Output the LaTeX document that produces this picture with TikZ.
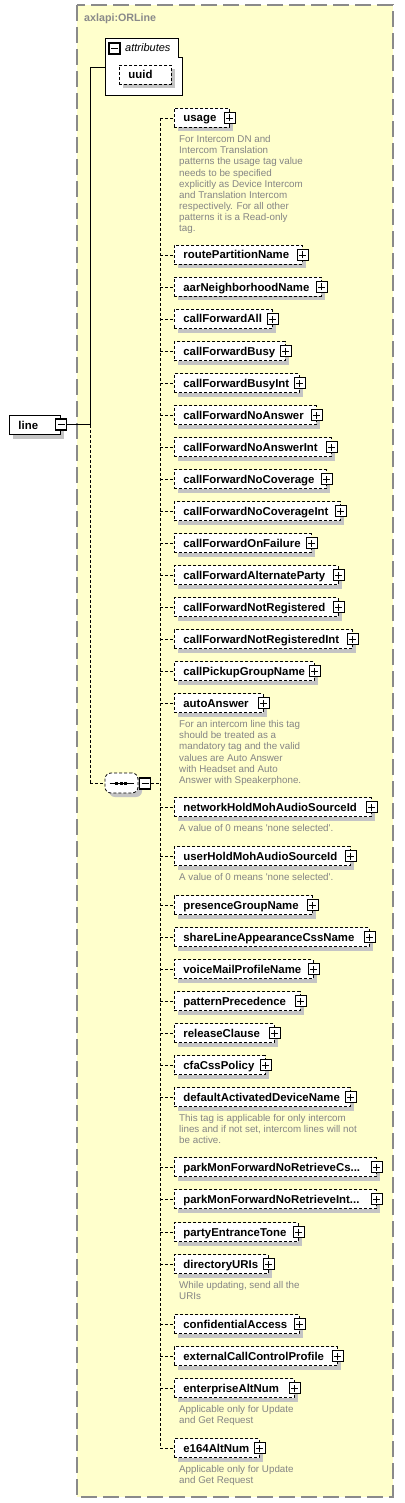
\documentclass[tikz,border=0pt]{standalone}
\usepackage{fontspec}
\setmainfont{Liberation Sans}
\newfontfamily\descfont{Liberation Sans}[Ligatures=TeXOff]
\usetikzlibrary{shadows}
\definecolor{bgyellow}{HTML}{FFFFCC}
\definecolor{framegray}{HTML}{8A8A8A}
\definecolor{shadowgray}{HTML}{C4C4C4}
\definecolor{descgray}{HTML}{858585}
\newcommand\elemfont{\fontsize{11.4}{13}\selectfont\bfseries}
\newcommand\tdots{.{}.{}.}
\begin{document}
\begin{tikzpicture}[x=1pt,y=-1pt,
  conn/.style={line width=0.8pt, dash pattern=on 3pt off 2pt},
  elem/.style={draw, line width=0.8pt, dash pattern=on 3pt off 2pt, fill=white,
    minimum height=19pt, inner sep=0pt, anchor=west, text height=9pt, text depth=1pt,
    font=\elemfont, drop shadow={shadow xshift=4pt, shadow yshift=-4pt, fill=shadowgray, opacity=1}},
  solidbox/.style={elem, solid, line width=0.9pt},
  seqbox/.style={draw, line width=0.8pt, dash pattern=on 3pt off 2pt, fill=white,
    rounded corners=6pt, minimum width=33pt, minimum height=20pt, inner sep=0pt,
    drop shadow={shadow xshift=4pt, shadow yshift=-4pt, fill=shadowgray, opacity=1}},
  pm/.style={draw, fill=white, line width=1.1pt, minimum size=11pt, inner sep=0pt},
  plusbox/.style={pm, path picture={\draw[line width=0.9pt]
      ([xshift=-3.5pt]path picture bounding box.center) -- ([xshift=3.5pt]path picture bounding box.center)
      ([yshift=-3.5pt]path picture bounding box.center) -- ([yshift=3.5pt]path picture bounding box.center);}},
  minusbox/.style={pm, path picture={\draw[line width=0.9pt]
      ([xshift=-3.5pt]path picture bounding box.center) -- ([xshift=3.5pt]path picture bounding box.center);}},
  desc/.style={anchor=north west, inner sep=0pt, align=left, text=descgray,
    font=\descfont\fontsize{9.8}{11.1}\selectfont}
]
\useasboundingbox (0,0) rectangle (404,1503);
% frame
\draw[framegray, line width=1.4pt, dash pattern=on 16pt off 6pt, fill=bgyellow] (77,5) rectangle (393,1497);
\node[anchor=west, inner sep=0pt, text=framegray, font=\fontsize{10.7}{12}\selectfont\bfseries] (title) at (84,19) {axlapi:ORLine};

% attributes box
\draw[fill=white, line width=0.9pt] (105,38) -- (178,38) -- (178,57) -- (182,57) -- (182,95) -- (105,95) -- cycle;
\node[minusbox] (am) at (114.5,48.5) {};
\node[anchor=west, inner sep=0pt, font=\fontsize{11}{13}\selectfont\itshape] (attl) at (125,48) {attributes};
\node[elem] (uuid) at (119,74.5) {\makebox[52pt][l]{\hspace{9pt}uuid}};
\coordinate (att) at (105,67);

% line node
\node[solidbox] (ln) at (9,425) {\makebox[51pt][l]{\hspace{9pt}line}};
\node[minusbox] (lm) at (61,424.5) {};
\coordinate (jt) at (90,67);
\coordinate (jl) at (90,424.5);
\coordinate (js) at (90,783);
\draw[line width=0.9pt] (lm.east) -- (jl) -- (jt) -- (att);
\draw[conn] (jl) -- (js);

% sequence node
\node[seqbox] (seq) at (121.5,783) {};
\draw[line width=0.9pt] ([xshift=5pt]seq.west) -- ([xshift=-4pt]seq.east);
\foreach \sx in {115,119.5,124} {\fill (\sx,781.5) rectangle ++(3,3);}
\node[minusbox] (sm) at (145,783.5) {};
\draw[conn] (js) -- (seq.west);
\coordinate (sj) at (160,783.5);
\draw[conn] (sm.east) -- (sj);

% children
\foreach \t/\y/\r [count=\i] in {
  usage/118/229, routePartitionName/255/302, aarNeighborhoodName/287/321,
  callForwardAll/319/272, callForwardBusy/351/285, callForwardBusyInt/383/299,
  callForwardNoAnswer/415/316, callForwardNoAnswerInt/447/331,
  callForwardNoCoverage/479/326, callForwardNoCoverageInt/511/340,
  callForwardOnFailure/543/311, callForwardAlternateParty/575/338,
  callForwardNotRegistered/607/338, callForwardNotRegisteredInt/639/352,
  callPickupGroupName/671/314, autoAnswer/703/263,
  networkHoldMohAudioSourceId/807/371, userHoldMohAudioSourceId/856/350,
  presenceGroupName/905/312, shareLineAppearanceCssName/937/369,
  voiceMailProfileName/969/313, patternPrecedence/1001/300,
  releaseClause/1033/274, cfaCssPolicy/1065/265,
  defaultActivatedDeviceName/1097/350,
  parkMonForwardNoRetrieveCs\tdots/1167/376,
  parkMonForwardNoRetrieveInt\tdots/1199/376,
  partyEntranceTone/1232/298, directoryURIs/1264/268,
  confidentialAccess/1324/299, externalCallControlProfile/1356/337,
  enterpriseAltNum/1388/294, e164AltNum/1448/259} {
  \coordinate (j\i) at (160,\y);
  \node[elem] (e\i) at (174,\y) {\makebox[\dimexpr\r pt-174pt\relax][l]{\hspace{9pt}\t}};
  \node[plusbox] (p\i) at (e\i.east) {};
  \draw[conn] (j\i) -- (e\i.west);
}
\draw[conn] (j1) -- (j33);

% descriptions
\node[desc] (d1) at (179,134.8) {\strut For Intercom DN and\\Intercom Translation\\patterns the usage tag value\\needs to be specified\\explicitly as Device Intercom\\and Translation Intercom\\respectively. For all other\\patterns it is a Read-only\\tag.};
\node[desc] (d16) at (179,719.8) {\strut For an intercom line this tag\\should be treated as a\\mandatory tag and the valid\\values are Auto Answer\\with Headset and Auto\\Answer with Speakerphone.};
\node[desc] (d17) at (179,823.8) {\strut A value of 0 means 'none selected'.};
\node[desc] (d18) at (179,872.8) {\strut A value of 0 means 'none selected'.};
\node[desc] (d25) at (179,1113.8) {\strut This tag is applicable for only intercom\\lines and if not set, intercom lines will not\\be active.};
\node[desc] (d29) at (179,1280.8) {\strut While updating, send all the\\URIs};
\node[desc] (d32) at (179,1404.8) {\strut Applicable only for Update\\and Get Request};
\node[desc] (d33) at (179,1464.8) {\strut Applicable only for Update\\and Get Request};
\end{tikzpicture}
\end{document}
